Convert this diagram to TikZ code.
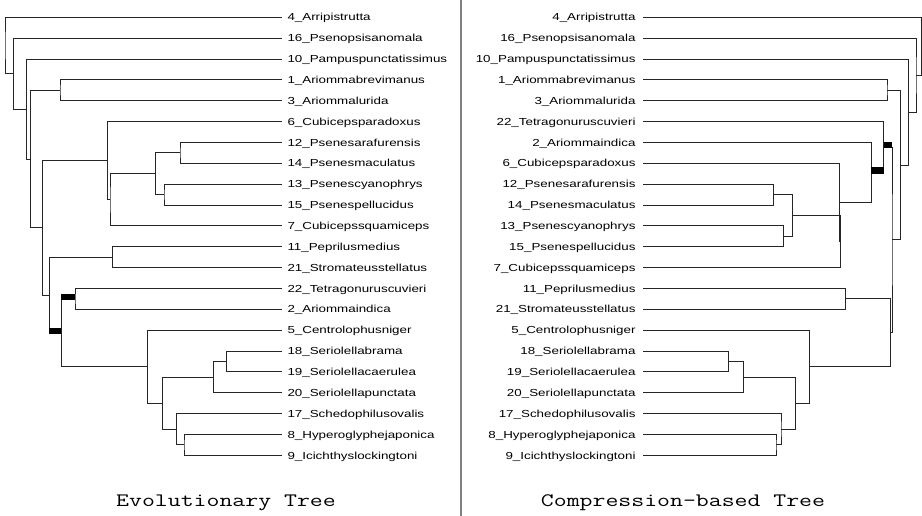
\documentclass[tikz,border=0pt]{standalone}
\usepackage{fontspec}
\usepackage{graphicx}
\newfontfamily\labfont[FakeStretch=1.31]{Liberation Sans}
\usetikzlibrary{calc}
\newcommand\treenode[4]{%
  \path let \p1=(#3), \p2=(#4) in coordinate (#1) at (#2, {0.5*(\y1+\y2)});
  \draw[branch] (#3) -| (#1) |- (#4);
}
\begin{document}
\begin{tikzpicture}[x=1pt,y=1pt,
  branch/.style={line width=0.9pt, draw=black!85},
  lab/.style={inner sep=0pt, font=\fontsize{10.2}{12}\labfont},
  bar/.style={fill=black},
  divider/.style={line width=1.3pt, draw=black!50},
  title/.style={inner sep=0pt, font=\fontsize{19}{22}\ttfamily, anchor=base}
]
\fill[white] (0,0) rectangle (922,-516);
\useasboundingbox (0,0) rectangle (922,-516);

% ---------- left tree leaves ----------
\foreach \n/\t [count=\k from 0] in {4/Arripistrutta,16/Psenopsisanomala,10/Pampuspunctatissimus,1/Ariommabrevimanus,3/Ariommalurida,6/Cubicepsparadoxus,12/Psenesarafurensis,14/Psenesmaculatus,13/Psenescyanophrys,15/Psenespellucidus,7/Cubicepssquamiceps,11/Peprilusmedius,21/Stromateusstellatus,22/Tetragonuruscuvieri,2/Ariommaindica,5/Centrolophusniger,18/Seriolellabrama,19/Seriolellacaerulea,20/Seriolellapunctata,17/Schedophilusovalis,8/Hyperoglyphejaponica,9/Icichthyslockingtoni}{
  \pgfmathsetmacro\yy{-(17.3+20.86*\k)}
  \coordinate (L\n) at (281.7,\yy);
  \node[lab,anchor=base west] (tL\n) at (287.3,\yy-3.65) {\n\_\t};
}
% ---------- right tree leaves ----------
\foreach \n/\t [count=\k from 0] in {4/Arripistrutta,16/Psenopsisanomala,10/Pampuspunctatissimus,1/Ariommabrevimanus,3/Ariommalurida,22/Tetragonuruscuvieri,2/Ariommaindica,6/Cubicepsparadoxus,12/Psenesarafurensis,14/Psenesmaculatus,13/Psenescyanophrys,15/Psenespellucidus,7/Cubicepssquamiceps,11/Peprilusmedius,21/Stromateusstellatus,5/Centrolophusniger,18/Seriolellabrama,19/Seriolellacaerulea,20/Seriolellapunctata,17/Schedophilusovalis,8/Hyperoglyphejaponica,9/Icichthyslockingtoni}{
  \pgfmathsetmacro\yy{-(17.3+20.86*\k)}
  \coordinate (R\n) at (643.3,\yy);
  \node[lab,anchor=base east] (tR\n) at (635.7,\yy-3.65) {\n\_\t};
}

% ---------- left tree internal nodes ----------
\treenode{lQ}{226.7}{L18}{L19}
\treenode{lP}{213.3}{lQ}{L20}
\treenode{lS}{184}{L8}{L9}
\treenode{lR}{176.7}{L17}{lS}
\treenode{lO}{162.3}{lP}{lR}
\treenode{lN}{147.3}{L5}{lO}
\treenode{lM}{75}{L22}{L2}
\treenode{lLn}{61.2}{lM}{lN}
\treenode{lK}{112.7}{L11}{L21}
\treenode{lJ}{49.3}{lK}{lLn}
\treenode{lH}{180}{L12}{L14}
\treenode{lI}{164}{L13}{L15}
\treenode{lG}{155.7}{lH}{lI}
\treenode{lF}{110}{lG}{L7}
\treenode{lE}{107.3}{L6}{lF}
\treenode{lD}{42.7}{lE}{lJ}
\treenode{lAB}{60}{L1}{L3}
\treenode{lC}{30.7}{lAB}{lD}
\treenode{lB}{26.7}{L10}{lC}
\treenode{lA}{13.3}{L16}{lB}
\treenode{lroot}{5}{L4}{lA}
\fill[bar] ($(lLn |- lM)+(0,-1.3)$) rectangle ($(lM)+(0,5.2)$);
\fill[bar] ($(lJ |- lLn)+(0,-1.3)$) rectangle ($(lLn)+(0,5.2)$);

% ---------- right tree internal nodes ----------
\treenode{rN}{728.3}{R18}{R19}
\treenode{rM}{743.3}{rN}{R20}
\treenode{rP}{776}{R8}{R9}
\treenode{rO}{781}{R17}{rP}
\treenode{rL}{795.7}{rM}{rO}
\treenode{rK}{809.3}{R5}{rL}
\treenode{rJ}{845.3}{R11}{R21}
\treenode{rI}{890.3}{rJ}{rK}
\treenode{rH1}{773.3}{R12}{R14}
\treenode{rH2}{783.3}{R13}{R15}
\treenode{rH}{792.3}{rH1}{rH2}
\treenode{rG2}{840.7}{rH}{R7}
\treenode{rG1}{839.5}{R6}{rG2}
\treenode{rF}{871.3}{R2}{rG1}
\treenode{rE}{883.7}{R22}{rF}
\treenode{rD}{892}{rE}{rI}
\treenode{rAB}{887}{R1}{R3}
\treenode{rC}{900.7}{rAB}{rD}
\treenode{rB}{908.7}{R10}{rC}
\treenode{rA}{916}{R16}{rB}
\treenode{rroot}{921.3}{R4}{rA}
\fill[bar] ($(rE)+(0,-1.3)$) rectangle ($(rD |- rE)+(0,5.2)$);
\fill[bar] ($(rF)+(0,-1.3)$) rectangle ($(rE |- rF)+(0,5.2)$);

% ---------- divider and titles ----------
\coordinate (dtop) at (461,0);
\coordinate (dbot) at (461,-516);
\draw[divider] (dtop) -- (dbot);
\node[title] (t1) at (226,-506.7) {\scalebox{1.32}[1]{Evolutionary Tree}};
\node[title] (t2) at (683,-506.7) {\scalebox{1.32}[1]{Compression-based Tree}};
\end{tikzpicture}
\end{document}
